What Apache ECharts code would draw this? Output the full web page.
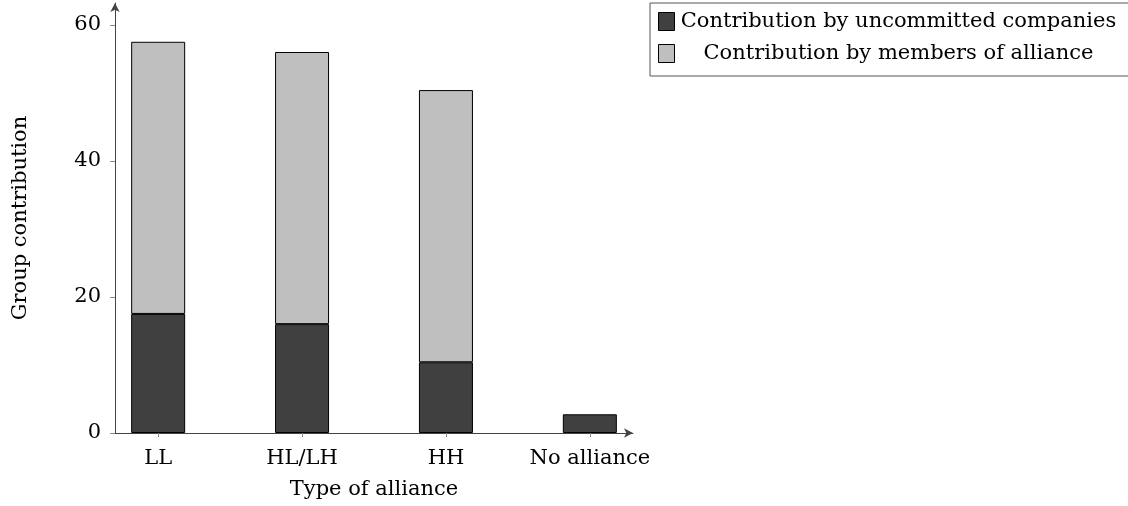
<!DOCTYPE html>
<html>
<head>
<meta charset="utf-8">
<script src="https://cdn.jsdelivr.net/npm/echarts@6/dist/echarts.min.js"></script>
<style>html,body{margin:0;padding:0;background:#fff}#c{width:1128px;height:506px}</style>
</head>
<body>
<div id="c"></div>
<script>
const categories = ['LL', 'HL/LH', 'HH', 'No alliance'];
const uncommitted = [17.5, 16, 10.4, 2.75];
const members = [40, 40, 40, null];
const yTicks = [0, 20, 40, 60];
const seriesNames = ['Contribution by uncommitted companies', 'Contribution by members of alliance'];

const FONT = 'DejaVu Serif';
// value first, category index second (so the value dimension is the stacked one)
const toPairs = arr => arr.map((v, i) => v == null ? null : [v, i]).filter(p => p);
const catIdx = categories.map((_, i) => i);

const chart = echarts.init(document.getElementById('c'), null, {renderer: 'canvas'});
chart.setOption({
  animation: false,
  grid: {left: 115, right: 495, top: 3, bottom: 73, containLabel: false},
  legend: {
    orient: 'vertical', left: 650, top: 3,
    padding: [8, 30, 12, 8], itemGap: 11,
    itemWidth: 16, itemHeight: 18,
    backgroundColor: '#fff', borderColor: '#555', borderWidth: 1, borderRadius: 0,
    icon: 'rect',
    itemStyle: {borderColor: '#000', borderWidth: 1},
    data: seriesNames,
    formatter: n => '{t|' + n + '}',
    textStyle: {
      fontFamily: FONT, fontSize: 21, color: '#000',
      rich: {t: {fontFamily: FONT, fontSize: 21, lineHeight: 24, color: '#000', width: 438, align: 'center'}}
    }
  },
  xAxis: {
    type: 'value', min: -0.3, max: 3.3,
    name: 'Type of alliance', nameLocation: 'middle', nameGap: 46,
    nameTextStyle: {fontFamily: FONT, fontSize: 21, color: '#000'},
    splitLine: {show: false},
    axisLine: {show: true, onZero: false, lineStyle: {color: '#444', width: 1}, symbol: ['none', 'arrow'], symbolSize: [7, 9]},
    axisTick: {show: true, length: 4, lineStyle: {color: '#888'}, customValues: catIdx},
    axisLabel: {customValues: catIdx, margin: 15, fontFamily: FONT, fontSize: 21, color: '#000',
      formatter: v => categories[Math.round(v)]}
  },
  yAxis: {
    type: 'value', min: 0, max: 63.2,
    name: 'Group contribution', nameLocation: 'middle', nameGap: 84, nameRotate: 90,
    nameTextStyle: {fontFamily: FONT, fontSize: 21, color: '#000'},
    splitLine: {show: false},
    axisLine: {show: true, onZero: false, lineStyle: {color: '#444', width: 1}, symbol: ['none', 'arrow'], symbolSize: [7, 9]},
    axisTick: {show: true, length: 5, lineStyle: {color: '#888'}, customValues: yTicks},
    axisLabel: {customValues: yTicks, margin: 14, fontFamily: FONT, fontSize: 21, color: '#000'}
  },
  series: [
    {name: seriesNames[0], type: 'bar', stack: 's', barWidth: 54, data: toPairs(uncommitted),
     encode: {x: 1, y: 0},
     itemStyle: {color: '#404040', borderColor: '#000', borderWidth: 1}},
    {name: seriesNames[1], type: 'bar', stack: 's', barWidth: 54, data: toPairs(members),
     encode: {x: 1, y: 0},
     itemStyle: {color: '#bfbfbf', borderColor: '#000', borderWidth: 1}}
  ]
});
</script>
</body>
</html>
